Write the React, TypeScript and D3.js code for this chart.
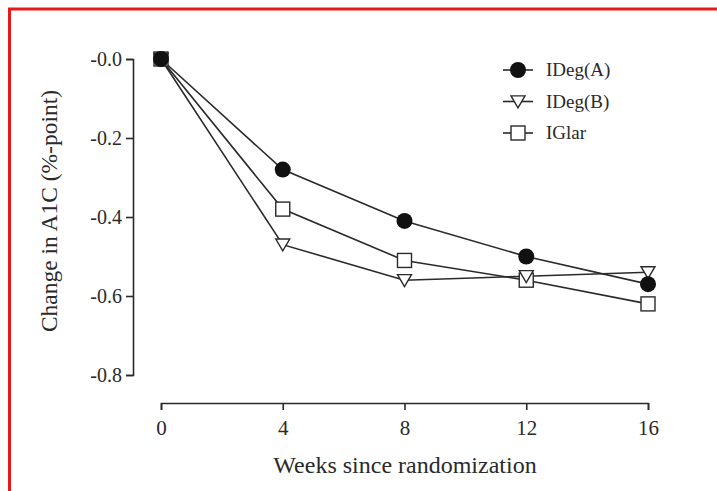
import * as d3 from "d3";
import { useEffect, useRef } from "react";

const weeks = [0, 4, 8, 12, 16];
const idegA = [0, -0.28, -0.41, -0.5, -0.57];
const idegB = [0, -0.47, -0.56, -0.55, -0.54];
const iglar = [0, -0.38, -0.51, -0.56, -0.62];
const yTicks = [0, -0.2, -0.4, -0.6, -0.8];
const seriesNames = ["IDeg(A)", "IDeg(B)", "IGlar"];

export default function App() {
  const ref = useRef<SVGSVGElement>(null);

  useEffect(() => {
    const svg = d3.select(ref.current);
    svg.selectAll("*").remove();

    const width = 717;
    const height = 491;
    const ink = "#2a2a2a";
    const font = "'Liberation Serif', 'Times New Roman', serif";

    svg.attr("width", width).attr("height", height);
    svg.append("rect").attr("width", width).attr("height", height).attr("fill", "#fff");

    // red frame (top + left only)
    svg.append("line").attr("x1", 8).attr("x2", width).attr("y1", 9).attr("y2", 9)
      .attr("stroke", "#e8191b").attr("stroke-width", 3);
    svg.append("line").attr("x1", 9.5).attr("x2", 9.5).attr("y1", 8).attr("y2", height)
      .attr("stroke", "#e8191b").attr("stroke-width", 3);

    const x = d3.scaleLinear().domain([0, 16]).range([161, 648]);
    const y = d3.scaleLinear().domain([0, -0.8]).range([59, 375]);

    // y axis
    const yAxis = svg.append("g").attr("transform", "translate(133,0)")
      .call(d3.axisLeft(y).tickValues(yTicks).tickSize(7).tickPadding(4)
        .tickFormat(d => (d === 0 ? "-0.0" : (d as number).toFixed(1))));
    yAxis.select(".domain").attr("stroke", ink).attr("stroke-width", 1.6);
    yAxis.selectAll(".tick line").attr("stroke", ink).attr("stroke-width", 1.6);
    yAxis.selectAll(".tick text").attr("font-family", font).attr("font-size", 20).attr("fill", ink);

    // x axis
    const xAxis = svg.append("g").attr("transform", "translate(0,403)")
      .call(d3.axisBottom(x).tickValues(weeks).tickSize(7).tickPadding(10));
    xAxis.select(".domain").attr("stroke", ink).attr("stroke-width", 1.6);
    xAxis.selectAll(".tick line").attr("stroke", ink).attr("stroke-width", 1.6);
    xAxis.selectAll(".tick text").attr("font-family", font).attr("font-size", 21).attr("fill", ink);

    // axis titles
    svg.append("text").attr("x", 405).attr("y", 473).attr("text-anchor", "middle")
      .attr("font-family", font).attr("font-size", 24).attr("fill", ink)
      .text("Weeks since randomization");
    svg.append("text").attr("transform", "translate(57,211) rotate(-90)")
      .attr("text-anchor", "middle").attr("font-family", font).attr("font-size", 23.5).attr("fill", ink)
      .text("Change in A1C (%-point)");

    const line = d3.line<number>().x((_, i) => x(weeks[i])).y(d => y(d));
    const triangle = (cx: number, cy: number, s: number) =>
      `M${cx - s},${cy - s * 0.8}L${cx + s},${cy - s * 0.8}L${cx},${cy + s * 0.9}Z`;

    const drawMarker = (g: d3.Selection<SVGGElement, unknown, null, undefined>, kind: number, cx: number, cy: number) => {
      if (kind === 0) {
        g.append("circle").attr("cx", cx).attr("cy", cy).attr("r", 8).attr("fill", "#111");
      } else if (kind === 1) {
        g.append("path").attr("d", triangle(cx, cy, 7)).attr("fill", "#fff")
          .attr("stroke", ink).attr("stroke-width", 1.4);
      } else {
        g.append("rect").attr("x", cx - 7).attr("y", cy - 7).attr("width", 14).attr("height", 14)
          .attr("fill", "#fff").attr("stroke", ink).attr("stroke-width", 1.4);
      }
    };

    const series = [idegA, idegB, iglar];
    series.forEach(vals => {
      svg.append("path").attr("d", line(vals)).attr("fill", "none")
        .attr("stroke", ink).attr("stroke-width", 1.6);
    });
    const marks = svg.append("g");
    [2, 1, 0].forEach(k => {
      series[k].forEach((v, i) => drawMarker(marks, k, x(weeks[i]), y(v)));
    });

    // legend
    const lg = svg.append("g");
    seriesNames.forEach((name, k) => {
      const cy = 70 + k * 31.5;
      lg.append("line").attr("x1", 503).attr("x2", 533).attr("y1", cy).attr("y2", cy)
        .attr("stroke", ink).attr("stroke-width", 1.6);
      drawMarker(lg, k, 518, cy);
      lg.append("text").attr("x", 546).attr("y", cy + 6).attr("font-family", font)
        .attr("font-size", 19).attr("fill", ink).text(name);
    });
  }, []);

  return (
    <div style={{ position: "absolute", left: 0, top: 0 }}>
      <svg ref={ref} style={{ display: "block" }} />
    </div>
  );
}
